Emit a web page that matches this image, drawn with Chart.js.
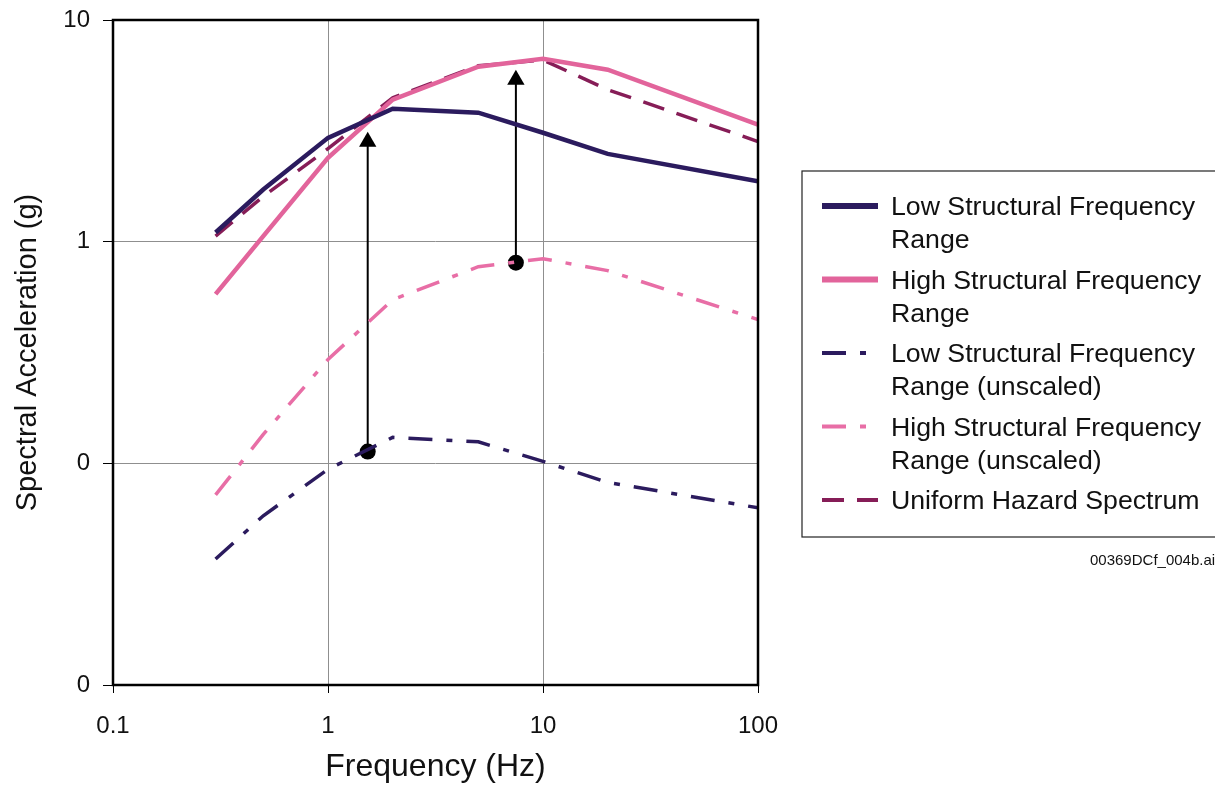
<!DOCTYPE html>
<html>
<head>
<meta charset="utf-8">
<script src="https://cdn.jsdelivr.net/npm/chart.js@4.4.1/dist/chart.umd.min.js"></script>
<style>
  body { margin: 0; background: #fff; }
</style>
</head>
<body>
<canvas id="spectra" width="1215" height="794"></canvas>
<script>
// frequencies (Hz) shared by all spectra
const freqs = [0.3, 0.5, 1, 2, 5, 10, 20, 100];
const lowScaled = [1.10, 1.72, 2.94, 3.98, 3.82, 3.10, 2.49, 1.87];
const highScaled = [0.58, 1.06, 2.39, 4.37, 6.16, 6.69, 5.97, 3.37];
const lowUnscaled = [0.037, 0.058, 0.094, 0.131, 0.125, 0.102, 0.082, 0.063];
const highUnscaled = [0.072, 0.135, 0.294, 0.547, 0.771, 0.838, 0.74, 0.445];
const uhs = [1.06, 1.60, 2.63, 4.46, 6.22, 6.60, 4.85, 2.83];

// scaling arrows: [freq, from], [freq, to]
const arrowLow = [[1.53, 0.113], [1.53, 2.82]];
const arrowHigh = [[7.48, 0.804], [7.48, 5.38]];

const xTicks = [0.1, 1, 10, 100];
const yTicks = [0.01, 0.1, 1, 10];

const names = [
    ['Low Structural Frequency', 'Range'],
    ['High Structural Frequency', 'Range'],
    ['Low Structural Frequency', 'Range (unscaled)'],
    ['High Structural Frequency', 'Range (unscaled)'],
    ['Uniform Hazard Spectrum']
];
const fileTag = '00369DCf_004b.ai';

const FONT = '"Liberation Sans", Arial, sans-serif';
const navy = '#2b1b5e';
const pink = '#e2649b';
const pinkLight = '#e86ea6';
const plum = '#861d57';

function pts(ys) {
    return freqs.map((f, i) => ({x: f, y: ys[i]}));
}

function arrow(a) {
    return {
        label: '',
        data: a.map(p => ({x: p[0], y: p[1]})),
        borderColor: '#000',
        backgroundColor: '#000',
        borderWidth: 2,
        pointStyle: ['circle', 'triangle'],
        pointRadius: [8, 10],
        pointBorderWidth: 0,
        inLegend: false
    };
}

const datasets = [
    {label: names[0], data: pts(lowScaled), borderColor: navy, borderWidth: 4.5},
    {label: names[1], data: pts(highScaled), borderColor: pink, borderWidth: 4.5},
    {label: names[2], data: pts(lowUnscaled), borderColor: navy, borderWidth: 3.5, borderDash: [24, 14, 6, 14]},
    {label: names[3], data: pts(highUnscaled), borderColor: pinkLight, borderWidth: 3.5, borderDash: [24, 14, 6, 14]},
    {label: names[4], data: pts(uhs), borderColor: plum, borderWidth: 3.5, borderDash: [22, 13]},
    arrow(arrowLow),
    arrow(arrowHigh)
];
datasets.slice(0, 5).forEach(d => { d.pointRadius = 0; d.fill = false; });

// plot frame, boxed legend and file tag
const decor = {
    id: 'decor',
    afterDraw(chart) {
        const ctx = chart.ctx;
        const a = chart.chartArea;
        ctx.save();
        ctx.strokeStyle = '#000';
        ctx.lineWidth = 2.5;
        ctx.strokeRect(a.left, a.top, a.right - a.left, a.bottom - a.top);

        // legend box (runs off the right edge like the source)
        ctx.lineWidth = 1.2;
        ctx.strokeStyle = '#222';
        ctx.strokeRect(802, 171, 460, 366);
        ctx.font = '26.7px ' + FONT;
        ctx.fillStyle = '#111';
        ctx.textBaseline = 'middle';
        ctx.textAlign = 'left';
        chart.data.datasets.forEach((d, i) => {
            if (d.inLegend === false) return;
            const y = 208 + i * 73.5;
            ctx.beginPath();
            ctx.setLineDash(d.borderDash || []);
            ctx.strokeStyle = d.borderColor;
            ctx.lineWidth = d.borderDash ? 4 : 6;
            ctx.moveTo(822, y - 2);
            ctx.lineTo(878, y - 2);
            ctx.stroke();
            ctx.setLineDash([]);
            d.label.forEach((t, j) => ctx.fillText(t, 891, y + j * 33));
        });

        ctx.font = '15px ' + FONT;
        ctx.textBaseline = 'alphabetic';
        ctx.fillText(fileTag, 1090, 565);
        ctx.restore();
    }
};

const config = {
    type: 'line',
    data: {datasets: datasets},
    options: {
        responsive: false,
        animation: false,
        devicePixelRatio: 1,
        layout: {padding: {top: 20, right: 457, left: 0, bottom: 0}},
        plugins: {legend: {display: false}, tooltip: {enabled: false}},
        scales: {
            x: {
                type: 'logarithmic',
                min: 0.1,
                max: 100,
                afterBuildTicks: s => { s.ticks = xTicks.map(v => ({value: v})); },
                afterFit: s => { s.height = 109; s.paddingLeft = 0; s.paddingRight = 0; },
                grid: {color: '#8f8f8f', lineWidth: 1, tickLength: 8, tickColor: '#000'},
                border: {display: false},
                ticks: {
                    color: '#111',
                    font: {family: FONT, size: 24},
                    padding: 19,
                    maxRotation: 0,
                    callback: v => String(v)
                },
                title: {
                    display: true,
                    text: 'Frequency (Hz)',
                    color: '#111',
                    font: {family: FONT, size: 32},
                    padding: {top: 0, bottom: 8}
                }
            },
            y: {
                type: 'logarithmic',
                min: 0.01,
                max: 10,
                afterBuildTicks: s => { s.ticks = yTicks.map(v => ({value: v})); },
                afterFit: s => { s.width = 113; s.paddingTop = 0; s.paddingBottom = 0; },
                grid: {color: '#8f8f8f', lineWidth: 1, tickLength: 10, tickColor: '#000'},
                border: {display: false},
                ticks: {
                    color: '#111',
                    font: {family: FONT, size: 24},
                    padding: 13,
                    callback: v => v >= 1 ? String(v) : '0'
                },
                title: {
                    display: true,
                    text: 'Spectral Acceleration (g)',
                    color: '#111',
                    font: {family: FONT, size: 29},
                    padding: {top: 11, bottom: 0}
                }
            }
        }
    },
    plugins: [decor]
};

const spectraChart = new Chart(document.getElementById('spectra'), config);
</script>
</body>
</html>
